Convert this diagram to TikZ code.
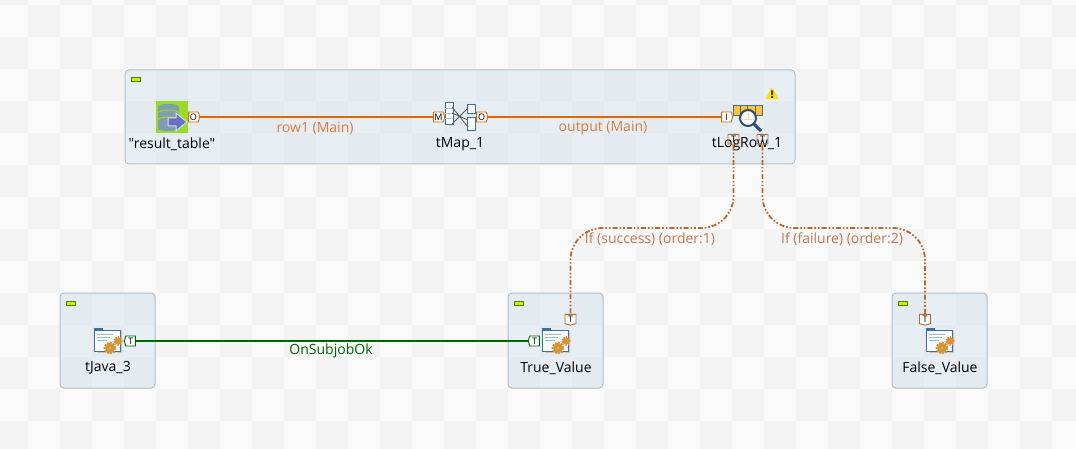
\documentclass[tikz,border=0pt]{standalone}
\usepackage{fontspec}
\newfontfamily\namefont{Open Sans}
\usetikzlibrary{positioning,shapes.symbols}

\definecolor{cellgrey}{HTML}{F4F4F4}
\definecolor{cellwhite}{HTML}{FAFAFA}
\definecolor{mainorange}{HTML}{E66400}
\definecolor{mainlabel}{HTML}{E07A3C}
\definecolor{iforange}{HTML}{B8682A}
\definecolor{iflabel}{HTML}{BE7A50}
\definecolor{okgreen}{HTML}{006400}
\definecolor{gearorange}{HTML}{D8923A}
\definecolor{iconblue}{HTML}{3F6F9F}
\definecolor{boxfill}{HTML}{C6DDEB}
\definecolor{boxline}{HTML}{AEC0CC}
\definecolor{dbgreen}{HTML}{99DB22}
\definecolor{dbgrey}{HTML}{7F9DB0}
\definecolor{dbarrow}{HTML}{6A70C0}
\definecolor{markline}{HTML}{4F7A00}
\definecolor{markfill}{HTML}{C4F500}

\tikzset{
  subjob/.style={draw=boxline, line width=1pt, rounded corners=4pt},
  marker/.style={draw=markline, fill=markfill, line width=0.8pt},
  complabel/.style={inner sep=0pt, font=\namefont\fontsize{14}{16}\selectfont},
  linklabel/.style={inner sep=0pt, font=\namefont\fontsize{14}{16}\selectfont},
  port/.style={shape=signal, draw=#1, fill=white, line width=0.9pt, inner sep=0pt,
    minimum width=11pt, minimum height=10pt, signal pointer angle=150,
    font=\namefont\fontsize{9}{9}\selectfont},
  pics/jobicon/.style={code={
    \fill[black!20] (-10,-9) rectangle (15,13);
    \fill[iconblue] (-13,-12) rectangle (-4,-8);
    \draw[iconblue, fill=cellwhite, line width=0.8pt] (-13,-10) rectangle (13,11);
    \draw[iconblue!50, line width=0.7pt] (-10,-6) -- (6,-6) (-10,-3) -- (3,-3) (-10,0) -- (0,0);
    \fill[gearorange] (3,8) circle (5);
    \draw[gearorange, line width=1.6pt, dash pattern=on 2pt off 1.2pt] (3,8) circle (5.6);
    \fill[cellwhite!40!gearorange] (3,8) circle (1.2);
    \fill[gearorange] (11,1) circle (3.5);
    \draw[gearorange, line width=1.4pt, dash pattern=on 1.6pt off 1pt] (11,1) circle (4);
  }},
}

\begin{document}
\begin{tikzpicture}[x=1pt, y=-1pt]
  \useasboundingbox (0,0) rectangle (1076,449);
  \begin{scope}
    \clip (0,0) rectangle (1076,449);
    \fill[cellwhite] (0,0) rectangle (1076,449);
    \foreach \ix in {0,...,34} {
      \foreach \iy in {0,...,14} {
        \pgfmathtruncatemacro{\odd}{mod(\ix+\iy,2)}
        \ifnum\odd=0
          \fill[cellgrey] (-4+32*\ix,-27+32*\iy) rectangle ++(32,32);
        \fi
      }
    }
  \end{scope}

  % subjobs
  \fill[boxfill, fill opacity=0.35, rounded corners=4pt] (125,70) rectangle (795,164);
  \draw[subjob] (125,70) rectangle (795,164);
  \foreach \bx in {60,508,892} {
    \fill[boxfill, fill opacity=0.35, rounded corners=4pt] (\bx,293) rectangle ++(95,95);
    \draw[subjob] (\bx,293) rectangle ++(95,95);
  }
  \foreach \mx/\my in {131/77,66/301,514/301,898/301} {
    \draw[marker] (\mx,\my) rectangle ++(9,4);
  }

  % result_table icon
  \fill[dbgreen] (156,101) rectangle (188,133);
  \fill[dbgrey] (158,107) rectangle (179,129);
  \fill[dbgrey] (168.5,107) ellipse (10.5 and 3);
  \fill[dbgrey] (168.5,129) ellipse (10.5 and 2);
  \draw[dbgreen, line width=1pt] (158,113) arc[start angle=180, end angle=0, x radius=10.5, y radius=-3];
  \draw[dbgreen, line width=1pt] (158,120) arc[start angle=180, end angle=0, x radius=10.5, y radius=-3];
  \draw[white!75!dbarrow, fill=dbarrow, line width=1pt]
    (168,118) -- (176,118) -- (176,113) -- (187,122) -- (176,131) -- (176,126) -- (168,126) -- cycle;

  % tMap icon
  \draw[iconblue, fill=cellwhite, line width=1pt] (445,103) rectangle (453,125);
  \foreach \ry in {108,113,118} { \draw[iconblue!40, line width=0.7pt] (445,\ry) -- (453,\ry); }
  \draw[iconblue, fill=cellwhite, line width=1pt] (467,105) rectangle (475,114);
  \draw[iconblue, fill=cellwhite, line width=1pt] (467,118) rectangle (475,131);
  \draw[black!65, line width=0.8pt] (452,107) -- (468,127) (452,124) -- (468,108) (452,113) -- (468,120);

  % tLogRow icon
  \draw[iconblue, fill=orange!60!yellow!80, line width=0.7pt] (733,105) rectangle (762,115);
  \foreach \lx in {740,747,755} { \draw[iconblue, line width=0.7pt] (\lx,105) -- (\lx,115); }
  \draw[iconblue!70!black, fill=cellwhite, line width=2pt] (748,118) circle (8);
  \draw[iconblue!70!black, line width=3pt] (754,124) -- (761,131);
  \draw[orange!30, line width=0.8pt] (741,119) -- (755,119) (748,113) -- (748,119);
  \fill[yellow!85!orange, rounded corners=1pt] (772,87) -- (778.5,99) -- (765.5,99) -- cycle;
  \fill[black!60!orange] (771,90.5) rectangle (773,95) (771,96) rectangle (773,98);

  \pic at (107,340) {jobicon};
  \pic at (555,340) {jobicon};
  \pic at (939,340) {jobicon};

  % component names
  \node[complabel] (result-t) at (172,144) {"result\_table"};
  \node[complabel] (map-t) at (460,144) {tMap\_1};
  \node[complabel] (log-t) at (747,144) {tLogRow\_1};
  \node[complabel] (java-t) at (108,368) {tJava\_3};
  \node[complabel] (true-t) at (556,368) {True\_Value};
  \node[complabel] (false-t) at (940,368) {False\_Value};

  % ports
  \node[port=mainorange, signal to=east] (result-o) at (193.5,117) {O};
  \node[port=mainorange, signal to=east] (map-m) at (438.5,117) {M};
  \node[port=mainorange, signal to=east] (map-o) at (481.5,117) {O};
  \node[port=mainorange, signal to=east] (log-i) at (726.5,117) {I};
  \node[port=iforange, signal to=south, fill=none] (log-ta) at (733.5,139) {T};
  \node[port=iforange, signal to=south, fill=none] (log-tb) at (762.5,139) {T};
  \node[port=okgreen, signal to=west] (java-o) at (130.5,341) {T};
  \node[port=okgreen, signal to=west] (true-i) at (534.5,341) {T};
  \node[port=iforange, signal to=south] (true-t-in) at (570.5,319) {T};
  \node[port=iforange, signal to=south] (false-t-in) at (925,319) {T};

  % links
  \draw[mainorange, line width=2pt] (result-o.east) -- (map-m.west);
  \draw[mainorange, line width=2pt] (map-o.east) -- (log-i.west);
  \draw[okgreen, line width=2pt] (java-o.east) -- (true-i.west);

  \coordinate (if-level) at (0,228);
  \draw[iforange, line width=1.8pt, rounded corners=32pt, dash pattern=on 5pt off 2pt on 1.6pt off 2pt on 1.6pt off 2pt]
    (log-ta.south) -- (log-ta.south |- if-level) -- (true-t-in.north |- if-level) -- (true-t-in.north);
  \draw[iforange, line width=1.8pt, rounded corners=32pt, dash pattern=on 5pt off 2pt on 1.6pt off 2pt on 1.6pt off 2pt]
    (log-tb.south) -- (log-tb.south |- if-level) -- (false-t-in.north |- if-level) -- (false-t-in.north);

  % link names
  \node[linklabel, text=mainlabel] (row-l) at (315,128) {row1 (Main)};
  \node[linklabel, text=mainlabel] (output-l) at (603,128) {output (Main)};
  \node[linklabel, text=iflabel] (success-l) at (650,239) {If (success) (order:1)};
  \node[linklabel, text=iflabel] (failure-l) at (842,239) {If (failure) (order:2)};
  \node[linklabel, text=okgreen] (ok-l) at (331,351) {OnSubjobOk};
\end{tikzpicture}
\end{document}
